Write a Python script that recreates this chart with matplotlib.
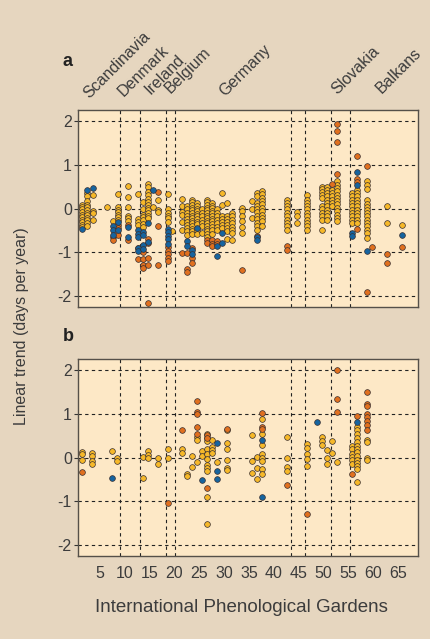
import matplotlib
matplotlib.use("Agg")
import matplotlib.pyplot as plt
import numpy as np

plt.rcParams['font.family'] = ['Liberation Sans', 'DejaVu Sans']

# ---------------- data ----------------
regions = ["Scandinavia", "Denmark", "Ireland", "Belgium", "Germany", "Slovakia", "Balkans"]
boundaries = [9.1, 13.1, 18.2, 20.2, 43.4, 46.3, 51.4, 55.3]
x_ticks = [5, 10, 15, 20, 25, 30, 35, 40, 45, 50, 55, 60, 65]
y_ticks = [-2, -1, 0, 1, 2]

# panel a: garden position -> linear trends
a_yellow = {
    1.5: [0.09, 0.03, -0.02, -0.08, -0.14, -0.19, -0.25, -0.31, -0.37, -0.42],
    2.5: [0.36, 0.28, 0.18, 0.09, 0.03, -0.03, -0.09, -0.15, -0.21, -0.27, -0.33, -0.39],
    3.6: [0.32, -0.05, -0.1, -0.25],
    6.5: [0.03],
    7.6: [-0.28],
    8.6: [0.34, 0.03, -0.03, -0.08, -0.14, -0.2, -0.26],
    10.6: [0.51, 0.26, 0.04, -0.16, -0.22, -0.29],
    12.6: [0.33, -0.24, -0.31, -0.38],
    13.6: [0.15, 0.0, -0.14, -0.2, -0.27, -0.35, -0.43],
    14.6: [0.56, 0.5, 0.38, 0.3, 0.22, 0.15, 0.08, 0.02, -0.04, -0.1, -0.16, -0.22],
    15.6: [0.04],
    16.6: [0.2, -0.04, -0.08],
    18.6: [0.34, -0.02, -0.1, -0.16, -0.22, -0.3],
    19.6: [-0.52],
    21.6: [0.22, 0.07, -0.08, -0.14, -0.3, -0.48],
    22.6: [0.05, -0.02, -0.1, -0.17, -0.24, -0.31, -0.38, -0.45, -0.52, -0.6],
    23.6: [0.2, 0.14, 0.08, 0.02, -0.04, -0.1, -0.16, -0.22, -0.28, -0.34, -0.4, -0.46, -0.52, -0.58],
    24.6: [0.13, 0.06, 0.0, -0.06, -0.12, -0.18, -0.24, -0.3, -0.36, -0.5, -0.58],
    25.6: [-0.02, -0.1, -0.18, -0.26, -0.34, -0.4, -0.55],
    26.6: [0.2, 0.14, 0.08, 0.02, -0.04, -0.1, -0.16, -0.22, -0.28, -0.34, -0.4, -0.46, -0.52, -0.58, -0.64],
    27.6: [0.13, 0.07, 0.01, -0.05, -0.11, -0.17, -0.23, -0.29, -0.35, -0.41, -0.5, -0.58],
    28.6: [-0.02, -0.1, -0.18, -0.26, -0.34, -0.42, -0.5],
    29.6: [0.36, 0.08, -0.17, -0.24, -0.31, -0.38, -0.45],
    30.6: [0.13, -0.17, -0.24, -0.31, -0.38, -0.45, -0.52, -0.7],
    31.6: [-0.1, -0.18, -0.25, -0.33, -0.41, -0.49, -0.57, -0.71],
    33.6: [0.02, -0.06, -0.18, -0.29, -0.41, -0.56],
    35.6: [0.17, 0.0, -0.21],
    36.6: [0.36, 0.28, 0.13, 0.06, -0.01, -0.08, -0.16, -0.24, -0.32, -0.4, -0.48],
    37.6: [0.4, 0.33, 0.25, 0.18, 0.1, 0.02, -0.06, -0.14, -0.22, -0.29, -0.4],
    42.7: [0.2, 0.12, 0.05, -0.02, -0.1, -0.18, -0.25, -0.33, -0.4, -0.48],
    44.7: [-0.08, -0.16, -0.34],
    46.7: [0.32, 0.2, 0.13, 0.05, -0.02, -0.1, -0.18, -0.25, -0.33, -0.4, -0.48],
    49.7: [0.5, 0.44, 0.38, 0.32, 0.25, 0.05, -0.02, -0.1, -0.18, -0.25, -0.48],
    50.7: [0.5, 0.42, 0.35, 0.28, 0.2, 0.12, 0.05, -0.03, -0.1, -0.18, -0.25],
    51.7: [0.43, 0.36, 0.28, 0.2, 0.12, 0.05],
    52.7: [0.62, 0.55, 0.47, 0.4, 0.32, 0.25, 0.17, 0.1, 0.02, -0.06, -0.14, -0.22, -0.29],
    55.7: [0.36, 0.28, 0.2, 0.13, 0.05, -0.03, -0.1, -0.18, -0.25, -0.33],
    56.7: [0.43, 0.35, 0.28, 0.2, 0.12, 0.05, -0.03, -0.1, -0.18, -0.26, -0.34],
    58.8: [0.62, 0.55, 0.45, 0.19, 0.11, 0.04, -0.03, -0.1, -0.18, -0.25, -0.33, -0.4, -0.48, -0.56, -0.67],
    62.8: [0.05, -0.33],
    65.8: [-0.38],
}
a_orange = {
    7.6: [-0.65, -0.73],
    8.6: [-0.38, -0.45, -0.6],
    10.6: [-0.37, -0.71],
    12.6: [-0.9, -1.15],
    13.6: [-1.0, -1.15, -1.3, -1.36],
    14.6: [-0.69, -0.78, -1.13, -1.28, -2.16],
    16.6: [0.38, -0.4, -1.3],
    18.6: [-0.88, -0.96, -1.04, -1.12, -1.2],
    21.6: [-1.01],
    22.6: [-1.02, -1.38, -1.45],
    23.6: [-0.9, -1.13, -1.24],
    26.6: [-0.72, -0.78],
    27.6: [-0.72, -0.8, -0.86],
    28.6: [-0.75, -0.82],
    33.6: [-1.41],
    36.6: [-0.62],
    42.7: [-0.86, -0.94],
    51.7: [0.57],
    52.7: [1.94, 1.77, 1.52, 0.78],
    56.7: [1.2, 0.68, 0.6, -0.46],
    58.8: [0.97, -1.91],
    59.8: [-0.88],
    62.8: [-1.05, -1.24],
    65.8: [-0.88],
}
a_blue = {
    1.5: [-0.46],
    2.5: [0.43],
    3.6: [0.46],
    7.6: [-0.4, -0.5, -0.6],
    8.6: [-0.3, -0.5],
    10.6: [-0.42, -0.65],
    12.6: [-0.5, -0.58, -0.66, -0.9, -0.98],
    13.6: [-0.53, -0.6, -0.84, -0.92],
    14.6: [-0.34, -0.77],
    15.6: [0.42],
    18.6: [-0.46, -0.54, -0.62, -0.7, -0.8],
    22.6: [-0.75, -0.85],
    23.6: [-0.94, -1.05],
    24.6: [-0.44],
    28.6: [-0.86, -1.08],
    29.6: [-0.56, -0.78],
    36.6: [-0.65, -0.72],
    55.7: [-0.56, -0.62],
    56.7: [0.83, 0.53],
    58.8: [-0.96],
    65.8: [-0.6],
}

# panel b
b_yellow = {
    1.5: [0.13, 0.08, -0.05],
    3.5: [0.11, 0.03, -0.08, -0.14],
    7.5: [0.14],
    8.5: [0.0, -0.08],
    13.6: [0.02, -0.46],
    14.6: [0.15, 0.05, -0.02],
    16.6: [-0.02, -0.15],
    18.6: [0.2, -0.02],
    21.6: [0.2, 0.11],
    22.6: [-0.37, -0.41],
    23.6: [0.03, -0.21],
    24.6: [0.47, 0.4, -0.1],
    25.6: [0.15, 0.03],
    26.6: [0.53, 0.45, 0.39, 0.2, 0.09, -0.03, -0.17, -0.23, -0.3, -0.9, -1.51],
    27.6: [0.41, 0.24, 0.17, 0.1],
    28.6: [-0.09],
    30.6: [0.62, 0.33, 0.2, -0.05, -0.23, -0.29],
    35.6: [0.52, -0.08, -0.35],
    36.6: [0.01, -0.23, -0.48],
    37.7: [0.89, 0.53, 0.28, 0.09, 0.0, -0.08, -0.25, -0.37],
    42.7: [0.47, 0.0, -0.21, -0.3],
    46.7: [0.3, 0.23, 0.08, -0.04, -0.19],
    49.7: [0.47, 0.38, 0.28],
    50.7: [0.18, -0.02, -0.14],
    51.7: [0.38, 0.1],
    52.7: [-0.09],
    55.7: [0.26, 0.2, 0.09, 0.01, -0.06, -0.14],
    56.7: [0.7, 0.62, 0.53, 0.45, 0.36, 0.27, 0.2, 0.12, 0.03, -0.05, -0.12, -0.2, -0.26, -0.56],
    58.7: [0.41, 0.36, -0.02, -0.06],
}
b_orange = {
    1.5: [-0.34],
    18.6: [-1.04],
    21.6: [0.62],
    24.6: [1.29, 1.05, 0.99, 0.7, 0.55],
    26.6: [0.51, 0.45, -0.7],
    30.6: [0.66],
    37.7: [1.02, 0.7, 0.65],
    42.7: [-0.62],
    46.7: [-1.3],
    52.7: [2.0, 1.33, 1.04],
    55.7: [-0.37],
    56.7: [0.94],
    58.7: [1.5, 1.23, 1.17, 1.0, 0.93, 0.83, 0.74, 0.62],
}
b_blue = {
    7.5: [-0.46],
    25.6: [-0.52],
    28.6: [0.33, -0.31, -0.5],
    37.7: [0.41, -0.91],
    48.7: [0.82],
    56.7: [0.82],
}

# ---------------- style ----------------
FIG_BG = "#E6D6BF"
AX_BG = "#FDE8C6"
YELLOW = "#F6B829"
ORANGE = "#E0701F"
BLUE = "#16649F"
EDGE = "#3A3030"
TEXT = "#3C3C3C"

fig = plt.figure(figsize=(4.31, 6.39), dpi=100, facecolor=FIG_BG)
ax_a = fig.add_axes([0.181, 0.5196, 0.789, 0.308])
ax_b = fig.add_axes([0.181, 0.1299, 0.789, 0.308])


def flatten(d):
    xs, ys = [], []
    for k, vals in d.items():
        xs.extend([k] * len(vals))
        ys.extend(vals)
    return np.array(xs), np.array(ys)


for ax, sets in ((ax_a, (a_yellow, a_orange, a_blue)), (ax_b, (b_yellow, b_orange, b_blue))):
    ax.set_facecolor(AX_BG)
    ax.set_xlim(0.6, 69.0)
    ax.set_ylim(-2.25, 2.25)
    for yv in y_ticks:
        ax.axhline(yv, color="#222222", lw=0.8, ls=(0, (3, 3)), zorder=1)
    for xv in boundaries:
        ax.axvline(xv, color="#222222", lw=0.8, ls=(0, (3, 3)), zorder=1)
    for d, c in zip(sets, (YELLOW, ORANGE, BLUE)):
        xs, ys = flatten(d)
        ax.scatter(xs, ys, s=17, c=c, edgecolors=EDGE, linewidths=0.5, zorder=3)
    for sp in ax.spines.values():
        sp.set_color("#555049")
        sp.set_linewidth(1.0)
    ax.set_yticks(y_ticks)
    ax.set_yticklabels([str(v) for v in y_ticks])
    ax.tick_params(axis="y", direction="out", length=3, width=0.8, color="#333333",
                   labelsize=11.5, labelcolor=TEXT, pad=1.5)
    ax.set_xticks(x_ticks)
    ax.tick_params(axis="x", length=0, labelsize=11.5, labelcolor=TEXT, pad=7)

ax_a.set_xticklabels([])
ax_b.set_xticklabels([str(v) for v in x_ticks])

# region labels
label_x = [2.9, 9.7, 15.1, 19.3, 30.2, 52.7, 61.7]
label_y = [1.056, 1.066, 1.076, 1.081, 1.066, 1.076, 1.081]
for name, lx, ly in zip(regions, label_x, label_y):
    ax_a.text(lx, ly, name, transform=ax_a.get_xaxis_transform(), rotation=45,
              rotation_mode="anchor", ha="left", va="baseline", fontsize=11.5,
              color=TEXT, clip_on=False)

fig.text(63 / 431, 1 - 66 / 639, "a", fontsize=13, fontweight="bold", color="#222222",
         ha="left", va="baseline")
fig.text(63 / 431, 1 - 341 / 639, "b", fontsize=13, fontweight="bold", color="#222222",
         ha="left", va="baseline")
fig.text(22 / 431, 1 - 326 / 639, "Linear trend (days per year)", rotation=90,
         fontsize=11.5, color=TEXT, ha="center", va="center")
fig.text(241 / 431, 1 - 607 / 639, "International Phenological Gardens",
         fontsize=13.5, color=TEXT, ha="center", va="center")

fig.savefig("out.png", dpi=100, facecolor=FIG_BG)
